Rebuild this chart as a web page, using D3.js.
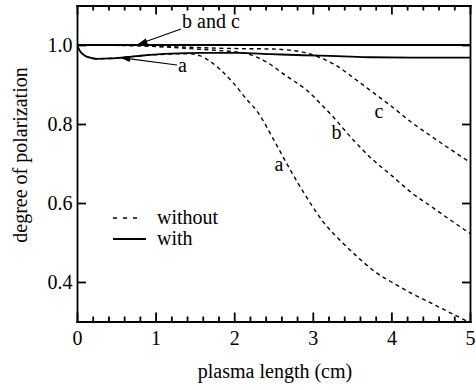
<!DOCTYPE html>
<html>
<head>
<meta charset="utf-8">
<script src="https://cdnjs.cloudflare.com/ajax/libs/d3/7.8.5/d3.min.js"></script>
<style>
  body { margin: 0; background: #fff; }
  svg { display: block; }
  svg text { font-family: "Liberation Serif", "DejaVu Serif", "Times New Roman", serif; fill: #000; }
  .axis path, .axis line { stroke: #000; stroke-width: 1.8; }
  .with { fill: none; stroke: #000; stroke-width: 1.8; }
  .without { fill: none; stroke: #000; stroke-width: 1.4; stroke-dasharray: 4,3.5; }
</style>
</head>
<body>
<svg id="chart" width="476" height="390"></svg>
<script>
// x positions and values
var xTicks = [0, 1, 2, 3, 4, 5];
var xMinor = [0.2, 0.4, 0.6, 0.8, 1.2, 1.4, 1.6, 1.8, 2.2, 2.4, 2.6, 2.8, 3.2, 3.4, 3.6, 3.8, 4.2, 4.4, 4.6, 4.8];
var yTicks = [0.4, 0.6, 0.8, 1.0];

// "with" curves
var withBC = [[0, 1.0], [5, 1.0]];
var withA = [[0, 1.0], [0.04, 0.984], [0.1, 0.973], [0.165, 0.968], [0.25, 0.965], [0.42, 0.966],
  [0.76, 0.972], [1.18, 0.978], [1.6, 0.98], [2.04, 0.98], [2.46, 0.977], [2.88, 0.974],
  [3.31, 0.972], [3.73, 0.969], [4.27, 0.968], [5, 0.968]];

// "without" curves
var withoutA = [[0, 1.0], [0.04, 0.984], [0.1, 0.973], [0.165, 0.968], [0.25, 0.965], [0.42, 0.966],
  [0.76, 0.972], [1.18, 0.977], [1.4, 0.978], [1.56, 0.973], [1.7, 0.958], [1.81, 0.94],
  [1.98, 0.906], [2.16, 0.862], [2.3, 0.83], [2.5, 0.761], [2.71, 0.685], [2.92, 0.615],
  [3.13, 0.553], [3.35, 0.505], [3.56, 0.465], [3.81, 0.423], [4.0, 0.4], [4.25, 0.372],
  [4.5, 0.347], [4.75, 0.322], [5.0, 0.297]];
var withoutB = [[0, 1.0], [0.5, 0.999], [1.0, 0.996], [1.5, 0.99], [1.8, 0.986], [2.0, 0.983],
  [2.16, 0.978], [2.41, 0.957], [2.66, 0.922], [2.92, 0.886], [3.12, 0.847], [3.25, 0.82],
  [3.5, 0.763], [3.75, 0.712], [4.0, 0.67], [4.25, 0.627], [4.5, 0.592], [4.75, 0.557], [5.0, 0.523]];
var withoutC = [[0, 1.0], [0.8, 0.999], [1.2, 0.996], [1.6, 0.993], [2.0, 0.991], [2.45, 0.99], [2.7, 0.987],
  [2.92, 0.98], [3.08, 0.969], [3.3, 0.948], [3.55, 0.912], [3.8, 0.875], [4.0, 0.845],
  [4.25, 0.805], [4.5, 0.77], [4.75, 0.736], [5.0, 0.703]];

var curveLabels = [
  {text: "a", x: 2.57, y: 0.68},
  {text: "b", x: 3.30, y: 0.763},
  {text: "c", x: 3.84, y: 0.814}
];

var serif = "'Liberation Serif', 'DejaVu Serif', 'Times New Roman', serif";

var svg = d3.select("#chart");

var x = d3.scaleLinear().domain([0, 5]).range([77, 470]);
var y = d3.scaleLinear().domain([0.3, 1.1]).range([321.5, 5.5]);

svg.append("defs").append("clipPath").attr("id", "plot")
  .append("rect")
    .attr("x", x(0)).attr("y", y(1.1))
    .attr("width", x(5) - x(0)).attr("height", y(0.3) - y(1.1));

svg.append("defs").append("marker")
    .attr("id", "arrow")
    .attr("viewBox", "0 0 10 6")
    .attr("refX", 10).attr("refY", 3)
    .attr("markerWidth", 10).attr("markerHeight", 6)
    .attr("markerUnits", "userSpaceOnUse")
    .attr("orient", "auto")
  .append("path")
    .attr("d", "M0,0L10,3L0,6Z")
    .attr("fill", "#000");

var line = d3.line()
    .x(function(d) { return x(d[0]); })
    .y(function(d) { return y(d[1]); })
    .curve(d3.curveMonotoneX);

var curves = svg.append("g").attr("clip-path", "url(#plot)");

curves.selectAll(".without")
  .data([withoutA, withoutB, withoutC])
  .enter().append("path")
    .attr("class", "without")
    .attr("d", line);

curves.selectAll(".with")
  .data([withBC, withA])
  .enter().append("path")
    .attr("class", "with")
    .attr("d", line);

// axes, ticks pointing inward
svg.append("g").attr("class", "axis")
    .attr("transform", "translate(0," + y(0.3) + ")")
    .call(d3.axisBottom(x).tickValues(xTicks).tickSize(-9).tickSizeOuter(0).tickPadding(9.5)
      .tickFormat(d3.format("d")));

svg.append("g").attr("class", "axis")
    .attr("transform", "translate(0," + y(0.3) + ")")
    .call(d3.axisBottom(x).tickValues(xMinor).tickSize(-5).tickSizeOuter(0).tickFormat(""));

svg.append("g").attr("class", "axis")
    .attr("transform", "translate(0," + y(1.1) + ")")
    .call(d3.axisTop(x).tickValues(xTicks).tickSize(-9).tickSizeOuter(0).tickFormat(""));

svg.append("g").attr("class", "axis")
    .attr("transform", "translate(0," + y(1.1) + ")")
    .call(d3.axisTop(x).tickValues(xMinor).tickSize(-5).tickSizeOuter(0).tickFormat(""));

svg.append("g").attr("class", "axis")
    .attr("transform", "translate(" + x(0) + ",0)")
    .call(d3.axisLeft(y).tickValues(yTicks).tickSize(-9).tickSizeOuter(0).tickPadding(4.5)
      .tickFormat(d3.format(".1f")));

svg.append("g").attr("class", "axis")
    .attr("transform", "translate(" + x(5) + ",0)")
    .call(d3.axisRight(y).tickValues(yTicks).tickSize(-8).tickSizeOuter(0).tickFormat(""));

svg.selectAll(".axis")
    .attr("font-family", serif)
    .attr("font-size", 20);
svg.selectAll(".axis .domain").attr("stroke-linecap", "square");

// axis titles
svg.append("text")
    .attr("x", 275).attr("y", 378)
    .attr("text-anchor", "middle")
    .attr("font-family", serif).attr("font-size", 20)
    .text("plasma length (cm)");

svg.append("text")
    .attr("transform", "translate(27,155) rotate(-90)")
    .attr("text-anchor", "middle")
    .attr("font-family", serif).attr("font-size", 20)
    .text("degree of polarization");

// curve labels
svg.selectAll(".clabel")
  .data(curveLabels)
  .enter().append("text")
    .attr("class", "clabel")
    .attr("x", function(d) { return x(d.x); })
    .attr("y", function(d) { return y(d.y); })
    .attr("text-anchor", "middle")
    .attr("font-family", serif).attr("font-size", 20)
    .text(function(d) { return d.text; });

// annotations with arrows
svg.append("text")
    .attr("x", 182).attr("y", 28)
    .attr("font-family", serif).attr("font-size", 20)
    .text("b and c");
svg.append("line")
    .attr("x1", 181).attr("y1", 29)
    .attr("x2", x(0.77)).attr("y2", y(1.0) - 0.5)
    .attr("stroke", "#000").attr("stroke-width", 1.1)
    .attr("marker-end", "url(#arrow)");

svg.append("text")
    .attr("x", 178).attr("y", 72)
    .attr("font-family", serif).attr("font-size", 20)
    .text("a");
svg.append("line")
    .attr("x1", 177).attr("y1", 65)
    .attr("x2", x(0.55)).attr("y2", y(0.968))
    .attr("stroke", "#000").attr("stroke-width", 1.1)
    .attr("marker-end", "url(#arrow)");

// legend
var legend = svg.append("g");
legend.append("line")
    .attr("x1", 113).attr("x2", 139).attr("y1", 218).attr("y2", 218)
    .attr("stroke", "#000").attr("stroke-width", 1.4)
    .attr("stroke-dasharray", "4,6");
legend.append("line")
    .attr("x1", 113).attr("x2", 146).attr("y1", 239).attr("y2", 239)
    .attr("stroke", "#000").attr("stroke-width", 1.8);
legend.append("text")
    .attr("x", 157).attr("y", 224)
    .attr("font-family", serif).attr("font-size", 20)
    .text("without");
legend.append("text")
    .attr("x", 157).attr("y", 245)
    .attr("font-family", serif).attr("font-size", 20)
    .text("with");
</script>
</body>
</html>
